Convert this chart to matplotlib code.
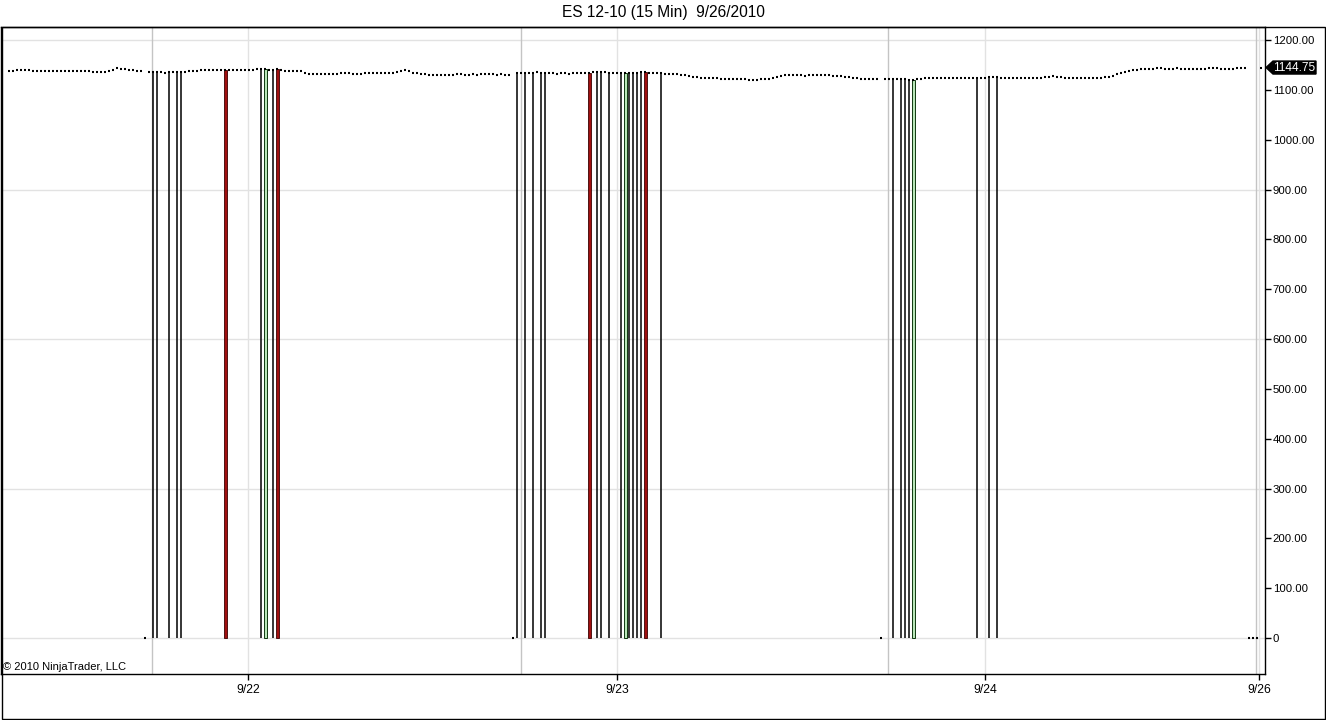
import numpy as np
import matplotlib
matplotlib.use('Agg')
import matplotlib.pyplot as plt
from matplotlib.patches import Polygon, Rectangle
from matplotlib.transforms import IdentityTransform

plt.rcParams['font.family'] = ['Liberation Sans', 'DejaVu Sans']

title = 'ES 12-10 (15 Min)  9/26/2010'
copyright_text = '\u00a9 2010 NinjaTrader, LLC'

# 15-minute closes per bar (0 = bad tick bar at zero)
s1_close = [1138, 1138, 1139, 1140, 1140, 1139, 1138, 1138, 1138, 1137,
            1138, 1138, 1138, 1137, 1138, 1137, 1138, 1138, 1138, 1137,
            1137, 1136, 1136, 1136, 1136, 1137, 1140, 1143, 1142, 1141,
            1140, 1139, 1138, 1138, 0, 1136]
s2_close = [1135, 1135, 1135, 1134, 1135, 1135, 1135, 1135,
            1136, 1137, 1138, 1138,
            1139, 1139, 1140, 1139, 1140, 1140, 1140, 1139, 1140, 1140, 1140, 1140,
            1140, 1140, 1141, 1141, 1141, 1140,
            1140, 1141, 1139, 1138, 1138, 1138, 1137,
            1138,
            1133, 1132, 1131, 1131, 1131, 1131, 1132, 1131, 1132,
            1133, 1133, 1133, 1132, 1132, 1132, 1133,
            1133, 1134, 1134, 1133, 1133, 1134, 1134, 1135,
            1138, 1140,
            1137, 1134, 1133, 1132, 1132,
            1130, 1130, 1130, 1129, 1129, 1130, 1130, 1131, 1131, 1130, 1130,
            1131, 1130, 1131, 1132, 1131, 1131, 1130, 1131, 1130, 1130,
            0, 1133]
s3_close = [1134, 1134, 1134, 1134, 1135, 1134, 1134, 1133,
            1133, 1132, 1133, 1133, 1132, 1133, 1133, 1133,
            1134, 1134, 1135, 1135, 1135, 1135, 1134,
            1134, 1134, 1133, 1133, 1133, 1133, 1134, 1135, 1135,
            1134, 1134, 1133, 1133, 1132, 1132,
            1131, 1131, 1130, 1129, 1128,
            1126,
            1125, 1124, 1124, 1123, 1123, 1123, 1122, 1122, 1122, 1122, 1122,
            1121, 1121, 1120, 1120, 1120, 1121, 1121, 1122,
            1124, 1126, 1127,
            1129, 1130, 1130, 1129, 1129, 1128, 1129, 1129, 1130, 1130, 1130, 1129, 1128, 1128,
            1127, 1126, 1125, 1124, 1123, 1122, 1122, 1121, 1121,
            1121, 0, 1121]
s4_close = [1121, 1121, 1121, 1121, 1121, 1120, 1120, 1121,
            1122, 1123, 1124, 1124, 1124, 1124,
            1124, 1124, 1124, 1124, 1124, 1124, 1124, 1124, 1124, 1124, 1124, 1125,
            1125, 1125, 1124, 1124, 1124, 1123, 1123, 1124, 1124, 1123, 1123, 1124, 1124, 1125,
            1126, 1127,
            1125, 1125, 1124, 1124, 1124, 1124, 1124, 1124, 1124, 1124, 1124, 1124, 1125, 1126,
            1128, 1131, 1134,
            1136, 1138, 1139, 1139, 1141,
            1142, 1142, 1142, 1143, 1143, 1142, 1142, 1142, 1143, 1142,
            1142, 1142, 1142, 1142, 1142, 1142, 1143, 1143, 1143, 1142,
            1142, 1142, 1142, 1143, 1144, 1144,
            0, 0, 0, 1144.75]

# bars whose low printed at zero
wick_bars = [36, 37, 40, 42, 43, 63, 66, 127, 129, 131, 133, 134, 147, 148,
             150, 153, 155, 156, 157, 158, 163, 221, 223, 224, 225, 242, 245, 247]
red_bars = [54, 67, 145, 159]
green_bars = [64, 154, 226]

session_breaks = [35.8, 127.9, 219.8, 311.75]
day_ticks = [59.75, 152, 244, 312.6]
day_labels = ['9/22', '9/23', '9/24', '9/26']
y_ticks = list(range(0, 1201, 100))
grid_levels = [0, 300, 600, 900, 1200]
last_price = 1144.75

close = np.array(s1_close + s2_close + s3_close + s4_close, dtype=float)
bars = np.arange(len(close))

W, H = 1326, 720
fig = plt.figure(figsize=(W / 100, H / 100), dpi=100)
fig.patch.set_facecolor('white')
ax = fig.add_axes([1 / W, 46 / H, 1264 / W, 647 / H])
ax.set_xlim(-2, 314)
ax.set_ylim(-72.2, 1226.1)

for g in grid_levels:
    ax.axhline(g, color='#e2e2e2', lw=1, zorder=0)
for t in day_ticks:
    ax.axvline(t, color='#e2e2e2', lw=1, zorder=0)
for b in session_breaks:
    ax.axvline(b, color='#c4c4c4', lw=1, zorder=0)

wb = np.array(wick_bars)
ax.vlines(wb, 0, close[wb], colors='black', lw=1.1, zorder=2)
rb = np.array(red_bars)
ax.bar(rb, close[rb], width=0.75, color='#a01010', edgecolor='#3a0000', lw=0.6, zorder=2)
gb = np.array(green_bars)
ax.bar(gb, close[gb], width=0.75, color='#b8e6b8', edgecolor='#103810', lw=0.7, zorder=2)

ax.plot(bars, close, ls='none', marker='_', ms=2.1, mew=1.5, color='black', zorder=3)

ax.yaxis.tick_right()
ax.set_yticks(y_ticks)
ax.set_yticklabels(['0' if v == 0 else f'{v:.2f}' for v in y_ticks])
ax.tick_params(axis='y', direction='out', length=4, width=1, pad=1.5,
               labelsize=8.2, colors='black', left=False)
ax.set_xticks(day_ticks)
ax.set_xticklabels(day_labels)
ax.tick_params(axis='x', direction='out', length=4, width=1, pad=3,
               labelsize=8.8, colors='black')
for s in ax.spines.values():
    s.set_color('black')
    s.set_linewidth(1)

ax.text(0.0015, (674 - 667) / 647, copyright_text, transform=ax.transAxes,
        fontsize=8, va='center', ha='left', color='black')

fig.text(0.5, 1 - 12 / H, title, ha='center', va='center', fontsize=11.2, color='black')

# outer frame
fig.add_artist(Rectangle((1.5 / W, 1 / H), 1323.5 / W, 692 / H, transform=fig.transFigure,
                         fill=False, ec='black', lw=1))

# last price marker
yd = ax.transData.transform((0, last_price))[1]
xr = ax.transAxes.transform((1, 0))[0]
poly = Polygon([(xr + 1, yd), (xr + 8, yd + 6.5), (xr + 51, yd + 6.5),
                (xr + 51, yd - 6.5), (xr + 8, yd - 6.5)], closed=True,
               transform=IdentityTransform(), facecolor='black', edgecolor='black')
fig.add_artist(poly)
fig.text(xr + 29.5, yd, f'{last_price:.2f}', transform=IdentityTransform(),
         ha='center', va='center', fontsize=8.6, color='white')

fig.savefig('out.png', dpi=100)
